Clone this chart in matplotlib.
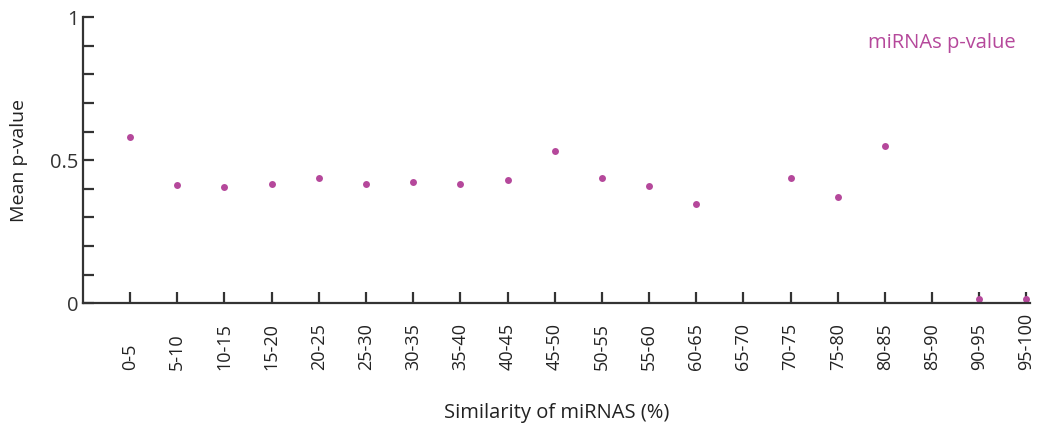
import matplotlib.pyplot as plt
import numpy as np

# Mean p-value per similarity bin (NaN where the bin has no miRNAs)
bins = ['0-5', '5-10', '10-15', '15-20', '20-25', '25-30', '30-35', '35-40',
        '40-45', '45-50', '50-55', '55-60', '60-65', '65-70', '70-75',
        '75-80', '80-85', '85-90', '90-95', '95-100']
mean_p = [0.580, 0.413, 0.406, 0.416, 0.437, 0.416, 0.423, 0.416,
          0.430, 0.531, 0.437, 0.410, 0.346, np.nan, 0.437,
          0.372, 0.549, np.nan, 0.014, 0.014]

color_pts = '#b5489b'
color_axis = '#333333'

plt.rcParams['font.family'] = ['Open Sans', 'DejaVu Sans']

fig = plt.figure(figsize=(10.37, 4.30), dpi=100)
ax = fig.add_axes([0.080, 0.295, 0.913, 0.665])

x = np.arange(len(bins))
ax.plot(x, mean_p, 'o', color=color_pts, markersize=5, markeredgewidth=0)

ax.set_xlim(-1, 19.07)
ax.set_ylim(0, 1)

for side in ['top', 'right']:
    ax.spines[side].set_visible(False)
for side in ['left', 'bottom']:
    ax.spines[side].set_color(color_axis)
    ax.spines[side].set_linewidth(1.6)

ax.set_yticks([0, 0.5, 1])
ax.set_yticklabels(['0', '0.5', '1'])
ax.set_yticks(np.arange(0, 1.01, 0.1), minor=True)
ax.tick_params(axis='y', which='both', direction='in', length=8, width=1.6,
               color=color_axis, labelsize=14.5, labelcolor='#333333', pad=3)

ax.set_xticks(x)
ax.set_xticklabels(bins, rotation=90, va='bottom')
ax.tick_params(axis='x', direction='in', length=8, width=1.6,
               color=color_axis, labelsize=13, labelcolor='#222222', pad=48)

ax.set_ylabel('Mean p-value', fontsize=14, color='#222222', labelpad=16)
ax.set_xlabel('Similarity of miRNAS (%)', fontsize=14.5, color='#222222', labelpad=24)

ax.text(0.985, 0.91, 'miRNAs p-value', transform=ax.transAxes, ha='right',
        va='center', fontsize=14.5, color=color_pts)

fig.savefig('out.png', dpi=100)
